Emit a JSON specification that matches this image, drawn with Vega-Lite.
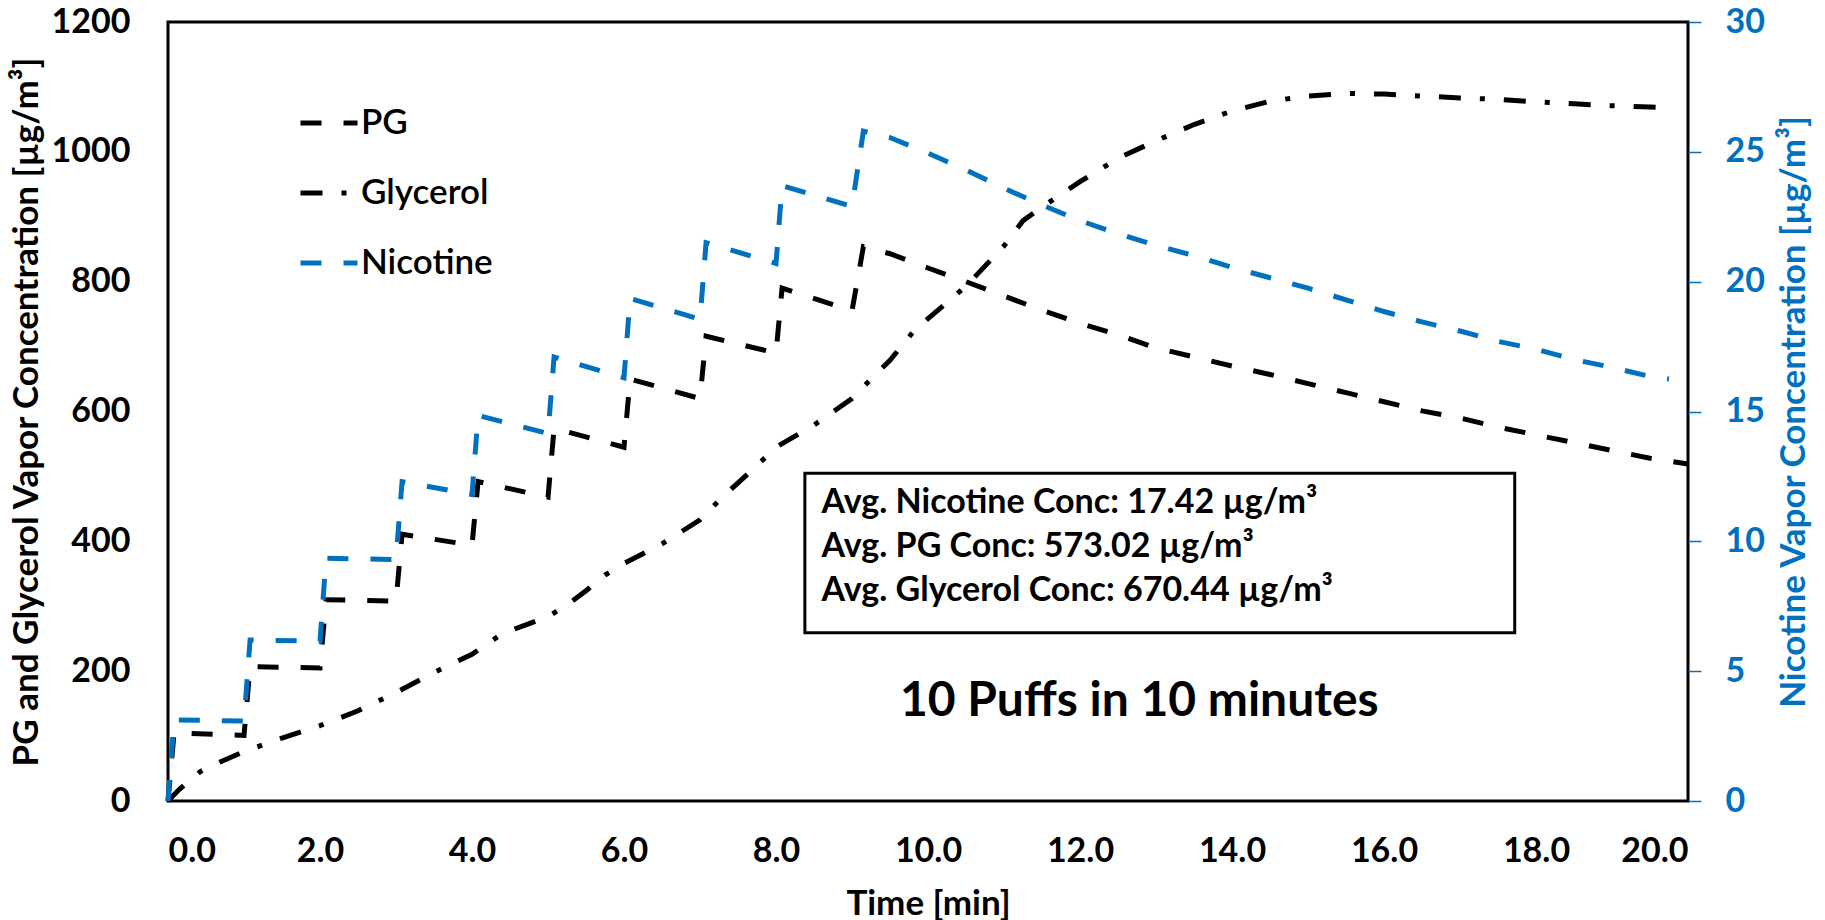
{
  "$schema": "https://vega.github.io/schema/vega-lite/v6.json",
  "width": 1520,
  "height": 779,
  "autosize": {"type": "none"},
  "padding": {"left": 168, "top": 22, "right": 137, "bottom": 119},
  "background": "white",
  "config": {
    "font": "Lato",
    "view": {"stroke": "#000000", "strokeWidth": 3},
    "axis": {
      "grid": false,
      "domain": false,
      "ticks": false,
      "tickSize": 0,
      "labelFont": "Lato",
      "titleFont": "Lato",
      "labelFontWeight": "bold",
      "titleFontWeight": "bold",
      "labelFontSize": 34,
      "titleFontSize": 35,
      "labelColor": "#000000",
      "titleColor": "#000000"
    },
    "legend": {
      "orient": "none",
      "legendX": 130,
      "legendY": 70,
      "padding": 0,
      "symbolType": "stroke",
      "symbolSize": 3249,
      "symbolStrokeWidth": 5,
      "labelFont": "Lato",
      "labelFontSize": 35,
      "labelFontWeight": 600,
      "labelColor": "#000000",
      "labelOffset": 1,
      "rowPadding": 21,
      "title": null
    }
  },
  "datasets": {
    "curves": [
      {"t": 0, "v": 0, "series": "PG"},
      {"t": 0.08, "v": 105, "series": "PG"},
      {"t": 1.0, "v": 101, "series": "PG"},
      {"t": 1.08, "v": 207, "series": "PG"},
      {"t": 2.0, "v": 205, "series": "PG"},
      {"t": 2.08, "v": 310, "series": "PG"},
      {"t": 3.0, "v": 308, "series": "PG"},
      {"t": 3.08, "v": 411, "series": "PG"},
      {"t": 4.0, "v": 394, "series": "PG"},
      {"t": 4.08, "v": 492, "series": "PG"},
      {"t": 5.0, "v": 468, "series": "PG"},
      {"t": 5.08, "v": 574, "series": "PG"},
      {"t": 6.0, "v": 545, "series": "PG"},
      {"t": 6.08, "v": 650, "series": "PG"},
      {"t": 7.0, "v": 620, "series": "PG"},
      {"t": 7.08, "v": 716, "series": "PG"},
      {"t": 8.0, "v": 690, "series": "PG"},
      {"t": 8.08, "v": 790, "series": "PG"},
      {"t": 9.0, "v": 755, "series": "PG"},
      {"t": 9.15, "v": 854, "series": "PG"},
      {"t": 9.5, "v": 843, "series": "PG"},
      {"t": 10.0, "v": 821, "series": "PG"},
      {"t": 10.5, "v": 800, "series": "PG"},
      {"t": 11.0, "v": 778, "series": "PG"},
      {"t": 11.5, "v": 756, "series": "PG"},
      {"t": 12.0, "v": 736, "series": "PG"},
      {"t": 12.5, "v": 718, "series": "PG"},
      {"t": 13.0, "v": 698, "series": "PG"},
      {"t": 13.5, "v": 684, "series": "PG"},
      {"t": 14.0, "v": 670, "series": "PG"},
      {"t": 14.5, "v": 657, "series": "PG"},
      {"t": 15.0, "v": 643, "series": "PG"},
      {"t": 15.5, "v": 629, "series": "PG"},
      {"t": 16.0, "v": 615, "series": "PG"},
      {"t": 16.5, "v": 601, "series": "PG"},
      {"t": 17.0, "v": 590, "series": "PG"},
      {"t": 17.5, "v": 576, "series": "PG"},
      {"t": 18.0, "v": 564, "series": "PG"},
      {"t": 18.5, "v": 552, "series": "PG"},
      {"t": 19.0, "v": 540, "series": "PG"},
      {"t": 19.5, "v": 528, "series": "PG"},
      {"t": 20.0, "v": 519, "series": "PG"},
      {"t": 0, "v": 0, "series": "Glycerol"},
      {"t": 0.15, "v": 18, "series": "Glycerol"},
      {"t": 0.42, "v": 45, "series": "Glycerol"},
      {"t": 0.7, "v": 61, "series": "Glycerol"},
      {"t": 1.0, "v": 76, "series": "Glycerol"},
      {"t": 1.5, "v": 97, "series": "Glycerol"},
      {"t": 2.0, "v": 116, "series": "Glycerol"},
      {"t": 2.5, "v": 139, "series": "Glycerol"},
      {"t": 3.0, "v": 167, "series": "Glycerol"},
      {"t": 3.5, "v": 198, "series": "Glycerol"},
      {"t": 4.0, "v": 226, "series": "Glycerol"},
      {"t": 4.4, "v": 258, "series": "Glycerol"},
      {"t": 4.7, "v": 271, "series": "Glycerol"},
      {"t": 5.0, "v": 284, "series": "Glycerol"},
      {"t": 5.25, "v": 302, "series": "Glycerol"},
      {"t": 5.5, "v": 324, "series": "Glycerol"},
      {"t": 5.75, "v": 348, "series": "Glycerol"},
      {"t": 6.0, "v": 366, "series": "Glycerol"},
      {"t": 6.5, "v": 396, "series": "Glycerol"},
      {"t": 7.0, "v": 433, "series": "Glycerol"},
      {"t": 7.25, "v": 463, "series": "Glycerol"},
      {"t": 7.5, "v": 490, "series": "Glycerol"},
      {"t": 7.75, "v": 517, "series": "Glycerol"},
      {"t": 8.0, "v": 545, "series": "Glycerol"},
      {"t": 8.5, "v": 579, "series": "Glycerol"},
      {"t": 9.0, "v": 620, "series": "Glycerol"},
      {"t": 9.25, "v": 650, "series": "Glycerol"},
      {"t": 9.5, "v": 679, "series": "Glycerol"},
      {"t": 9.8, "v": 722, "series": "Glycerol"},
      {"t": 10.0, "v": 743, "series": "Glycerol"},
      {"t": 10.5, "v": 793, "series": "Glycerol"},
      {"t": 11.0, "v": 855, "series": "Glycerol"},
      {"t": 11.25, "v": 894, "series": "Glycerol"},
      {"t": 11.5, "v": 915, "series": "Glycerol"},
      {"t": 12.0, "v": 954, "series": "Glycerol"},
      {"t": 12.5, "v": 990, "series": "Glycerol"},
      {"t": 13.0, "v": 1017, "series": "Glycerol"},
      {"t": 13.5, "v": 1042, "series": "Glycerol"},
      {"t": 14.0, "v": 1063, "series": "Glycerol"},
      {"t": 14.5, "v": 1078, "series": "Glycerol"},
      {"t": 15.0, "v": 1086, "series": "Glycerol"},
      {"t": 15.5, "v": 1090, "series": "Glycerol"},
      {"t": 16.0, "v": 1089, "series": "Glycerol"},
      {"t": 16.5, "v": 1086, "series": "Glycerol"},
      {"t": 17.0, "v": 1083, "series": "Glycerol"},
      {"t": 17.5, "v": 1081, "series": "Glycerol"},
      {"t": 18.0, "v": 1077, "series": "Glycerol"},
      {"t": 18.5, "v": 1074, "series": "Glycerol"},
      {"t": 19.0, "v": 1071, "series": "Glycerol"},
      {"t": 19.5, "v": 1069, "series": "Glycerol"},
      {"t": 19.75, "v": 1068, "series": "Glycerol"},
      {"t": 0, "v": 0, "series": "Nicotine"},
      {"t": 0.08, "v": 3.12, "series": "Nicotine"},
      {"t": 1.0, "v": 3.08, "series": "Nicotine"},
      {"t": 1.08, "v": 6.2, "series": "Nicotine"},
      {"t": 2.0, "v": 6.15, "series": "Nicotine"},
      {"t": 2.08, "v": 9.35, "series": "Nicotine"},
      {"t": 3.0, "v": 9.3, "series": "Nicotine"},
      {"t": 3.08, "v": 12.3, "series": "Nicotine"},
      {"t": 4.0, "v": 11.8, "series": "Nicotine"},
      {"t": 4.08, "v": 14.85, "series": "Nicotine"},
      {"t": 5.0, "v": 14.15, "series": "Nicotine"},
      {"t": 5.08, "v": 17.1, "series": "Nicotine"},
      {"t": 6.0, "v": 16.3, "series": "Nicotine"},
      {"t": 6.08, "v": 19.35, "series": "Nicotine"},
      {"t": 7.0, "v": 18.55, "series": "Nicotine"},
      {"t": 7.08, "v": 21.5, "series": "Nicotine"},
      {"t": 8.0, "v": 20.7, "series": "Nicotine"},
      {"t": 8.08, "v": 23.7, "series": "Nicotine"},
      {"t": 9.0, "v": 22.9, "series": "Nicotine"},
      {"t": 9.15, "v": 25.8, "series": "Nicotine"},
      {"t": 9.5, "v": 25.55, "series": "Nicotine"},
      {"t": 10.0, "v": 24.95, "series": "Nicotine"},
      {"t": 10.5, "v": 24.3, "series": "Nicotine"},
      {"t": 11.0, "v": 23.6, "series": "Nicotine"},
      {"t": 11.5, "v": 22.95, "series": "Nicotine"},
      {"t": 12.0, "v": 22.35, "series": "Nicotine"},
      {"t": 12.5, "v": 21.85, "series": "Nicotine"},
      {"t": 13.0, "v": 21.4, "series": "Nicotine"},
      {"t": 13.5, "v": 21.0, "series": "Nicotine"},
      {"t": 14.0, "v": 20.55, "series": "Nicotine"},
      {"t": 14.5, "v": 20.15, "series": "Nicotine"},
      {"t": 15.0, "v": 19.75, "series": "Nicotine"},
      {"t": 15.5, "v": 19.3, "series": "Nicotine"},
      {"t": 16.0, "v": 18.85, "series": "Nicotine"},
      {"t": 16.5, "v": 18.45, "series": "Nicotine"},
      {"t": 17.0, "v": 18.1, "series": "Nicotine"},
      {"t": 17.5, "v": 17.7, "series": "Nicotine"},
      {"t": 18.0, "v": 17.4, "series": "Nicotine"},
      {"t": 18.5, "v": 17.0, "series": "Nicotine"},
      {"t": 19.0, "v": 16.7, "series": "Nicotine"},
      {"t": 19.5, "v": 16.35, "series": "Nicotine"},
      {"t": 19.75, "v": 16.25, "series": "Nicotine"}
    ],
    "box": [
      {"t": 8.38, "t2": 17.72, "v": 505, "v2": 259}
    ],
    "stats": [
      {"t": 8.6, "v": 459, "label": "Avg. Nicotine Conc: 17.42 µg/m³"},
      {"t": 8.6, "v": 391, "label": "Avg. PG Conc: 573.02 µg/m³"},
      {"t": 8.6, "v": 323.5, "label": "Avg. Glycerol Conc: 670.44 µg/m³"}
    ],
    "note": [
      {"t": 12.78, "v": 152.5, "label": "10 Puffs in 10 minutes"}
    ]
  },
  "encoding": {
    "x": {
      "field": "t",
      "type": "quantitative",
      "scale": {"domain": [0, 20], "nice": false, "zero": false},
      "axis": {
        "values": [0, 2, 4, 6, 8, 10, 12, 14, 16, 18, 20],
        "format": ".1f",
        "labelPadding": 33,
        "title": "Time [min]",
        "titleY": 113,
        "titleBaseline": "alphabetic"
      }
    }
  },
  "layer": [
    {
      "encoding": {
        "y": {
          "field": "v",
          "type": "quantitative",
          "scale": {"domain": [0, 1200], "nice": false},
          "axis": {
            "orient": "left",
            "values": [0, 200, 400, 600, 800, 1000, 1200],
            "format": "d",
            "labelPadding": 38,
            "title": "PG and Glycerol Vapor Concentration [µg/m³]",
            "titleAngle": 270,
            "titleX": -142,
            "titleY": 389.5,
            "titleAlign": "center",
            "titleBaseline": "middle"
          }
        }
      },
      "layer": [
        {
          "data": {"name": "curves"},
          "transform": [{"filter": "datum.series !== 'Nicotine'"}],
          "mark": {"type": "line", "strokeWidth": 5, "strokeCap": "butt"},
          "encoding": {
            "color": {
              "field": "series",
              "type": "nominal",
              "scale": {"domain": ["PG", "Glycerol", "Nicotine"], "range": ["#000000", "#000000", "#0070C0"]}
            },
            "strokeDash": {
              "field": "series",
              "type": "nominal",
              "scale": {"domain": ["PG", "Glycerol", "Nicotine"], "range": [[21, 22], [22, 19, 5, 19], [21, 22]]}
            }
          }
        },
        {
          "data": {"name": "box"},
          "mark": {"type": "rect", "fill": "#ffffff", "stroke": "#000000", "strokeWidth": 3},
          "encoding": {
            "x2": {"field": "t2"},
            "y2": {"field": "v2"}
          }
        },
        {
          "data": {"name": "stats"},
          "mark": {"type": "text", "align": "left", "baseline": "middle", "font": "Lato", "fontSize": 34, "fontWeight": "bold", "color": "#000000"},
          "encoding": {"text": {"field": "label"}}
        },
        {
          "data": {"name": "note"},
          "mark": {"type": "text", "align": "center", "baseline": "middle", "font": "Lato", "fontSize": 48, "fontWeight": "bold", "color": "#000000"},
          "encoding": {"text": {"field": "label"}}
        }
      ]
    },
    {
      "data": {"name": "curves"},
      "transform": [{"filter": "datum.series === 'Nicotine'"}],
      "mark": {"type": "line", "strokeWidth": 5, "strokeCap": "butt"},
      "encoding": {
        "y": {
          "field": "v",
          "type": "quantitative",
          "scale": {"domain": [0, 30], "nice": false},
          "axis": {
            "orient": "right",
            "values": [0, 5, 10, 15, 20, 25, 30],
            "ticks": true,
            "tickSize": 13,
            "tickWidth": 1.5,
            "tickColor": "#0070C0",
            "labelColor": "#0070C0",
            "labelPadding": 24,
            "title": "Nicotine Vapor Concentration [µg/m³]",
            "titleColor": "#0070C0",
            "titleAngle": 270,
            "titleX": 105,
            "titleY": 389.5,
            "titleAlign": "center",
            "titleBaseline": "middle"
          }
        },
        "color": {
          "field": "series",
          "type": "nominal",
          "scale": {"domain": ["PG", "Glycerol", "Nicotine"], "range": ["#000000", "#000000", "#0070C0"]}
        },
        "strokeDash": {
          "field": "series",
          "type": "nominal",
          "scale": {"domain": ["PG", "Glycerol", "Nicotine"], "range": [[21, 22], [22, 19, 5, 19], [21, 22]]}
        }
      }
    }
  ],
  "resolve": {"scale": {"y": "independent"}, "axis": {"y": "independent"}}
}
